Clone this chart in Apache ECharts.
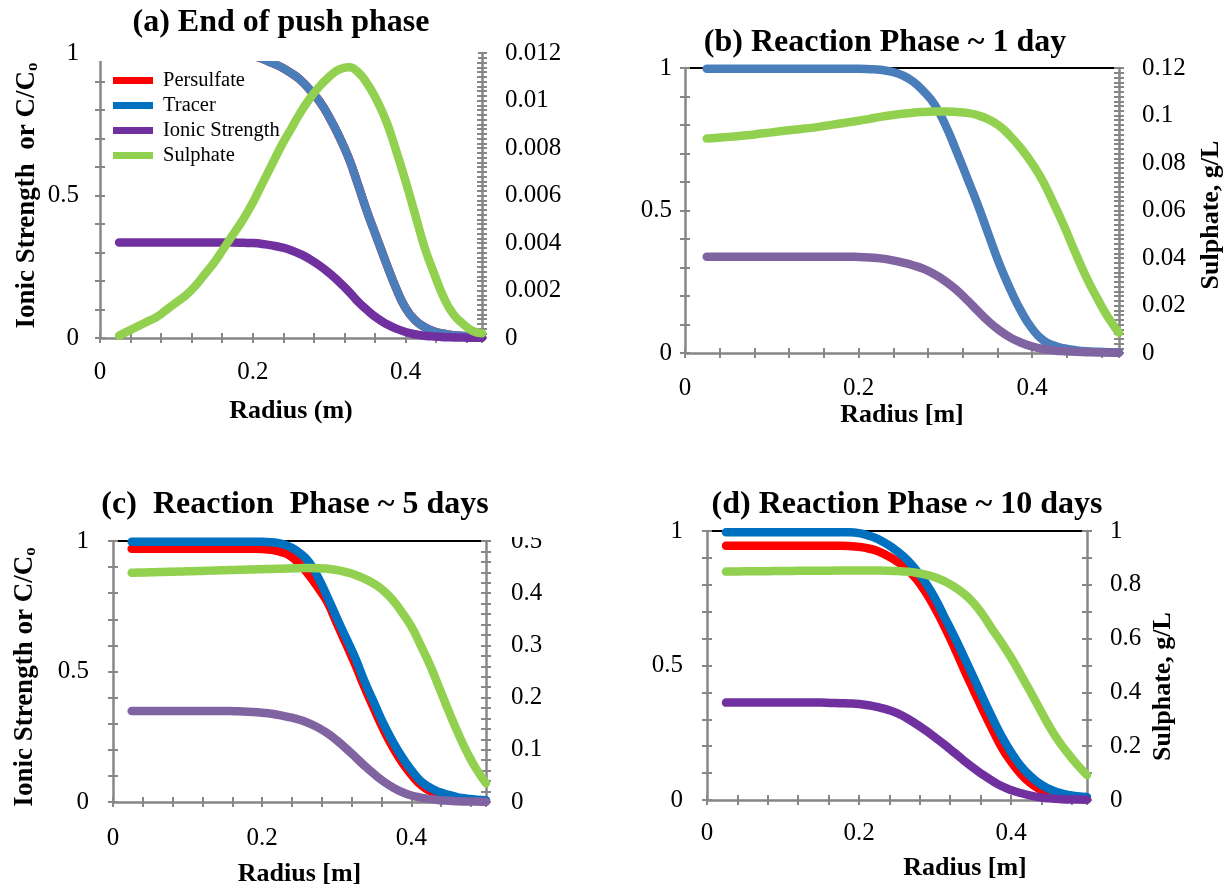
<!DOCTYPE html>
<html><head><meta charset="utf-8">
<script src="https://cdn.jsdelivr.net/npm/echarts@6/dist/echarts.min.js"></script>
<style>html,body{margin:0;padding:0;background:#fff}#c{width:1225px;height:891px}</style>
</head><body><div id="c"></div>
<script>
// ---- data (radius in m) ----
const radius = [0.025,0.0375,0.05,0.0625,0.075,0.0875,0.1,0.1125,0.125,0.1375,0.15,0.1625,0.175,0.1875,0.2,
  0.2125,0.225,0.2375,0.25,0.2625,0.275,0.2875,0.3,0.3125,0.325,0.3375,0.35,0.3625,0.375,0.3875,0.4,
  0.4125,0.425,0.4375,0.45,0.4625,0.475,0.4875,0.5];

// (a) End of push phase
const aPersulfate = [1,1,1,1,1,1,1,1,1,1,1,1,1,1,0.99,
  0.98,0.965,0.95,0.93,0.905,0.87,0.83,0.775,0.71,0.635,0.54,0.44,0.35,0.26,0.175,0.105,
  0.062,0.038,0.023,0.015,0.01,0.007,0.005,0.004];
const aTracer = [1,1,1,1,1,1,1,1,1,1,1,1,1,1,0.99,
  0.98,0.965,0.95,0.93,0.905,0.87,0.83,0.775,0.71,0.635,0.54,0.44,0.35,0.26,0.175,0.105,
  0.062,0.038,0.023,0.015,0.01,0.007,0.005,0.004];
const aIonic = [0.335,0.335,0.335,0.335,0.335,0.335,0.335,0.335,0.335,0.335,0.335,0.335,0.335,0.334,0.333,
  0.33,0.325,0.318,0.308,0.294,0.276,0.254,0.228,0.198,0.165,0.128,0.097,0.07,0.049,0.033,0.021,
  0.013,0.008,0.005,0.003,0.002,0.0015,0.001,0.001];
const aSulphate = [0.0001,0.0003,0.0005,0.0007,0.0009,0.0012,0.0015,0.0018,0.0022,0.0027,0.0032,0.0038,0.0044,0.0050,0.0057,
  0.0065,0.0073,0.0081,0.0088,0.0095,0.0101,0.0106,0.0110,0.0113,0.0114,0.0112,0.0107,0.0100,0.0091,0.0079,0.0066,
  0.0052,0.0038,0.0027,0.0017,0.0010,0.0006,0.0003,0.0002];

// (b) Reaction phase ~ 1 day
const bTracer = [0.997,0.997,0.997,0.997,0.997,0.997,0.997,0.997,0.997,0.997,0.997,0.997,0.997,0.997,0.997,
  0.996,0.994,0.987,0.975,0.953,0.918,0.872,0.80,0.71,0.615,0.518,0.413,0.31,0.222,0.145,0.085,
  0.045,0.026,0.016,0.01,0.006,0.004,0.003,0.002];
const bIonic = [0.338,0.338,0.338,0.338,0.338,0.338,0.338,0.338,0.338,0.338,0.338,0.338,0.338,0.338,0.337,
  0.335,0.332,0.326,0.318,0.308,0.295,0.276,0.252,0.222,0.186,0.147,0.11,0.079,0.054,0.036,0.023,
  0.014,0.009,0.006,0.004,0.003,0.002,0.0015,0.001];
const bSulphate = [0.0903,0.0906,0.0910,0.0914,0.0918,0.0924,0.0929,0.0935,0.0940,0.0945,0.0950,0.0957,0.0964,0.0971,0.0978,
  0.0986,0.0994,0.1001,0.1007,0.1012,0.1015,0.1017,0.1017,0.1015,0.1011,0.1001,0.0983,0.0955,0.0912,0.0860,0.0797,
  0.0722,0.0628,0.0528,0.0420,0.0318,0.0230,0.0150,0.0085];

// (c) Reaction phase ~ 5 days
const cPersulfate = [0.97,0.97,0.97,0.97,0.97,0.97,0.97,0.97,0.97,0.97,0.97,0.97,0.97,0.97,0.969,
  0.966,0.958,0.943,0.912,0.87,0.82,0.765,0.685,0.605,0.525,0.437,0.356,0.278,0.21,0.152,0.104,
  0.066,0.042,0.026,0.016,0.01,0.006,0.004,0.003];
const cTracer = [0.997,0.997,0.997,0.997,0.997,0.997,0.997,0.997,0.997,0.997,0.997,0.997,0.997,0.997,0.997,
  0.995,0.99,0.977,0.955,0.92,0.86,0.785,0.705,0.628,0.55,0.46,0.38,0.3,0.232,0.172,0.122,
  0.08,0.055,0.038,0.027,0.018,0.013,0.009,0.007];
const cIonic = [0.349,0.349,0.349,0.349,0.349,0.349,0.349,0.349,0.349,0.349,0.349,0.348,0.347,0.345,0.342,
  0.338,0.332,0.324,0.315,0.302,0.285,0.263,0.236,0.205,0.172,0.138,0.107,0.079,0.056,0.038,0.025,
  0.017,0.011,0.007,0.005,0.003,0.002,0.0015,0.001];
const cSulphate = [0.439,0.4395,0.44,0.4405,0.441,0.4415,0.442,0.4425,0.443,0.4435,0.444,0.4445,0.445,0.4455,0.446,
  0.4465,0.447,0.4475,0.448,0.4482,0.448,0.4468,0.4445,0.4405,0.435,0.4275,0.418,0.405,0.387,0.363,0.336,
  0.30,0.262,0.218,0.174,0.132,0.094,0.062,0.036];

// (d) Reaction phase ~ 10 days
const dPersulfate = [0.945,0.945,0.945,0.945,0.945,0.945,0.945,0.945,0.945,0.945,0.945,0.945,0.945,0.944,0.941,
  0.935,0.925,0.908,0.887,0.86,0.823,0.773,0.713,0.645,0.57,0.49,0.413,0.338,0.265,0.197,0.143,
  0.098,0.064,0.04,0.024,0.014,0.008,0.005,0.004];
const dTracer = [0.995,0.995,0.995,0.995,0.995,0.995,0.995,0.995,0.995,0.995,0.995,0.995,0.995,0.995,0.992,
  0.983,0.97,0.95,0.925,0.895,0.855,0.808,0.75,0.68,0.61,0.536,0.46,0.383,0.308,0.238,0.178,
  0.128,0.09,0.061,0.041,0.028,0.019,0.014,0.011];
const dIonic = [0.362,0.362,0.362,0.362,0.362,0.362,0.362,0.362,0.362,0.362,0.362,0.361,0.36,0.359,0.357,
  0.352,0.345,0.336,0.323,0.305,0.283,0.259,0.233,0.206,0.177,0.148,0.12,0.095,0.072,0.052,0.037,
  0.026,0.017,0.01,0.006,0.004,0.002,0.0015,0.001];
const dSulphate = [0.849,0.8495,0.85,0.85,0.8505,0.851,0.851,0.8515,0.852,0.852,0.8525,0.8525,0.853,0.853,0.853,
  0.853,0.853,0.8525,0.851,0.849,0.845,0.838,0.828,0.813,0.793,0.768,0.735,0.69,0.636,0.585,0.53,
  0.468,0.405,0.34,0.276,0.22,0.173,0.13,0.093];

// ---- styling / layout ----
const FONT = '"Liberation Serif","Times New Roman",Times,serif';
const GRAY = '#878787';
const RED = '#FF0000', GREEN = '#92D050';
const LINE_W = 8.5;

const panels = [
  {grid:{left:100,top:53,width:382,height:285}, title:'(a) End of push phase', tx:281, ty:23,
   persulfate:aPersulfate, tracer:aTracer, ionic:aIonic, sulphate:aSulphate,
   tracerColor:'#4A7EBB', ionicColor:'#7030A0',
   rightMax:0.012, rightInterval:0.0002, rightStep:0.002,
   xName:'Radius (m)', xNameGap:60, xNamePad:0, xMargin:22,
   yName:'Ionic Strength  or C/C{sub|o}', yNameGap:59, yNamePad:0, leftMargin:21,
   rName:'', rNameGap:60, rNamePad:0, rightMargin:23, topLine:false},
  {grid:{left:685,top:68,width:434,height:285}, title:'(b) Reaction Phase ~ 1 day', tx:885, ty:43,
   persulfate:null, tracer:bTracer, ionic:bIonic, sulphate:bSulphate,
   tracerColor:'#4A7EBB', ionicColor:'#8064A2',
   rightMax:0.12, rightInterval:0.002, rightStep:0.02,
   xName:'Radius [m]', xNameGap:45, xNamePad:0, xMargin:23,
   yName:'', yNameGap:60, yNamePad:0, leftMargin:13,
   rName:'Sulphate, g/L', rNameGap:79, rNamePad:[0,9,0,0], rightMargin:23, topLine:true},
  {grid:{left:113,top:541,width:373,height:261}, title:'(c)  Reaction  Phase ~ 5 days', tx:295, ty:505,
   persulfate:cPersulfate, tracer:cTracer, ionic:cIonic, sulphate:cSulphate,
   tracerColor:'#0070C0', ionicColor:'#8064A2',
   rightMax:0.5, rightInterval:0.02, rightStep:0.1,
   xName:'Radius [m]', xNameGap:59, xNamePad:0, xMargin:24,
   yName:'Ionic Strength or C/C{sub|o}', yNameGap:74, yNamePad:[0,11,0,0], leftMargin:24,
   rName:'', rNameGap:60, rNamePad:0, rightMargin:25, topLine:true},
  {grid:{left:707,top:531,width:380,height:269}, title:'(d) Reaction Phase ~ 10 days', tx:907, ty:505,
   persulfate:dPersulfate, tracer:dTracer, ionic:dIonic, sulphate:dSulphate,
   tracerColor:'#0070C0', ionicColor:'#7030A0',
   rightMax:1, rightInterval:0.1, rightStep:0.2,
   xName:'Radius [m]', xNameGap:55, xNamePad:[0,0,0,136], xMargin:21,
   yName:'', yNameGap:60, yNamePad:0, leftMargin:24,
   rName:'Sulphate, g/L', rNameGap:63, rNamePad:[0,42,0,0], rightMargin:23, topLine:true}
];

function stepFmt(step, dec) {
  return v => Math.abs(v / step - Math.round(v / step)) < 1e-6 ? String(+v.toFixed(dec)) : '';
}
const nameStyle = pad => ({fontFamily:FONT, fontSize:27, fontWeight:'bold', color:'#000', padding:pad,
  rich:{sub:{fontFamily:FONT, fontSize:17, fontWeight:'bold', color:'#000', verticalAlign:'bottom'}}});
const xNameStyle = pad => ({fontFamily:FONT, fontSize:26, fontWeight:'bold', color:'#000', padding:pad});
const labelStyle = (margin, fmt) => ({margin:margin, color:'#000', fontFamily:FONT, fontSize:25, formatter:fmt});
const tickOut = {length:5, lineStyle:{color:GRAY, width:2}};
const tickIn = {inside:true, length:5, lineStyle:{color:GRAY, width:2}};
const axLine = {onZero:false, lineStyle:{color:GRAY, width:2.5}};

const option = {animation:false, backgroundColor:'#fff', grid:[], xAxis:[], yAxis:[], series:[], graphic:[],
  legend:{left:113, top:70, padding:0, orient:'vertical', itemWidth:40, itemHeight:7, itemGap:4, icon:'rect', selectedMode:false,
    textStyle:{fontFamily:FONT, fontSize:20.5, color:'#000', padding:[0,0,0,5]},
    data:[{name:'Persulfate', itemStyle:{color:RED}}, {name:'Tracer', itemStyle:{color:'#0070C0'}},
          {name:'Ionic Strength', itemStyle:{color:'#7030A0'}}, {name:'Sulphate', itemStyle:{color:GREEN}}]}
};

function addLine(name, xi, yi, arr, color) {
  option.series.push({name:name, type:'line', xAxisIndex:xi, yAxisIndex:yi, smooth:0.5,
    showSymbol:false, symbol:'none', silent:true, color:color,
    itemStyle:{color:color}, lineStyle:{width:LINE_W, color:color, cap:'round', join:'round'},
    data: radius.map((r, k) => [r, arr[k]])});
}

panels.forEach((p, i) => {
  option.grid.push(Object.assign({containLabel:false, outerBoundsMode:'none'}, p.grid));
  const xb = {gridIndex:i, type:'value', min:0, max:0.5, interval:0.04, splitLine:{show:false}};
  option.xAxis.push(Object.assign({}, xb, {position:'bottom', axisLine:axLine, axisTick:tickOut,
    axisLabel:labelStyle(p.xMargin, stepFmt(0.2, 1)), name:p.xName, nameLocation:'middle', nameGap:p.xNameGap,
    nameTextStyle:xNameStyle(p.xNamePad)}));
  option.xAxis.push(Object.assign({}, xb, {position:'bottom', axisLine:{show:false, onZero:false}, axisTick:tickIn, axisLabel:{show:false}}));
  option.xAxis.push(Object.assign({}, xb, {position:'top', show:p.topLine, axisLine:{onZero:false, lineStyle:{color:'#000', width:2}},
    axisTick:{show:false}, axisLabel:{show:false}}));

  const yl = {gridIndex:i, type:'value', position:'left', min:0, max:1, interval:0.1, splitLine:{show:false}};
  option.yAxis.push(Object.assign({}, yl, {axisLine:axLine, axisTick:tickOut, axisLabel:labelStyle(p.leftMargin, stepFmt(0.5, 1)),
    name:p.yName, nameLocation:'middle', nameGap:p.yNameGap, nameTextStyle:nameStyle(p.yNamePad)}));
  option.yAxis.push(Object.assign({}, yl, {axisLine:{show:false, onZero:false}, axisTick:tickIn, axisLabel:{show:false}}));
  const yr = {gridIndex:i, type:'value', position:'right', min:0, max:p.rightMax, interval:p.rightInterval, splitLine:{show:false}};
  option.yAxis.push(Object.assign({}, yr, {axisLine:axLine, axisTick:tickOut, axisLabel:labelStyle(p.rightMargin, stepFmt(p.rightStep, 4)),
    name:p.rName, nameLocation:'middle', nameGap:p.rNameGap, nameTextStyle:xNameStyle(p.rNamePad)}));
  option.yAxis.push(Object.assign({}, yr, {axisLine:{show:false, onZero:false}, axisTick:tickIn, axisLabel:{show:false}}));

  if (p.persulfate) addLine('Persulfate', 3*i, 4*i, p.persulfate, RED);
  addLine('Tracer', 3*i, 4*i, p.tracer, p.tracerColor);
  addLine('Ionic Strength', 3*i, 4*i, p.ionic, p.ionicColor);
  addLine('Sulphate', 3*i, 4*i+2, p.sulphate, GREEN);

  option.graphic.push({type:'text', x:p.tx, y:p.ty, z:100,
    style:{text:p.title, font:'bold 32px ' + FONT, fill:'#000', align:'center', verticalAlign:'middle',
      textAlign:'center', textVerticalAlign:'middle'}});
});

// white masks reproducing the clipped regions of the original figure
option.graphic.push({type:'rect', z:100, shape:{x:88, y:44, width:390, height:17}, style:{fill:'#fff'}});
option.graphic.push({type:'rect', z:100, shape:{x:492, y:518, width:55, height:19}, style:{fill:'#fff'}});

const chart = echarts.init(document.getElementById('c'), null, {renderer:'canvas'});
chart.setOption(option);
</script></body></html>
